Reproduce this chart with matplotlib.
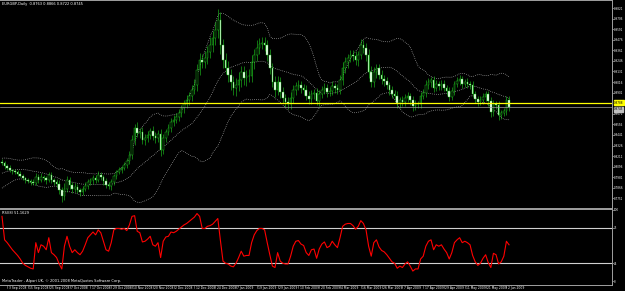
import numpy as np
import pandas as pd
import matplotlib
matplotlib.use('Agg')
import matplotlib.pyplot as plt
from matplotlib.transforms import blended_transform_factory

# EURGBP daily, 1 Sep 2008 - 3 Jun 2009 (closes in pips, 1e-4)
close_pips = [
    8136, 8104, 8082, 8060, 8049, 8038, 8017, 7995, 7973, 7951,
    7941, 7930, 7919, 7984, 7951, 7984, 7973, 7951, 8006, 7951,
    7930, 7908, 7843, 7777, 7854, 7951, 7897, 7854, 7875, 7843,
    7821, 7854, 7886, 7930, 7951, 7973, 7951, 8006, 7984, 7941,
    7897, 7886, 7930, 7995, 8038, 8060, 8082, 8114, 8158, 8223,
    8386, 8517, 8462, 8473, 8386, 8408, 8441, 8484, 8430, 8408,
    8451, 8278, 8408, 8473, 8517, 8582, 8604, 8636, 8680, 8734,
    8778, 8821, 8865, 8930, 8984, 9147, 9256, 9234, 9278, 9343,
    9419, 9495, 9582, 9691, 9419, 9256, 9169, 9093, 9017, 8952,
    8984, 9038, 9125, 9060, 9082, 9082, 9234, 9310, 9386, 9430,
    9441, 9419, 9310, 9169, 9017, 8930, 9017, 8908, 8843, 8799,
    8778, 8843, 8930, 8973, 8984, 8952, 8930, 8865, 8832, 8886,
    8897, 8810, 8886, 8930, 8952, 8908, 8919, 8973, 8952, 8930,
    9038, 9169, 9234, 9278, 9310, 9299, 9256, 9310, 9419, 9386,
    9310, 9125, 9017, 9125, 9169, 9093, 9049, 9028, 8984, 8930,
    8886, 8865, 8788, 8821, 8799, 8843, 8865, 8821, 8756, 8778,
    8778, 8865, 8897, 8984, 9017, 9038, 8952, 8995, 8973, 8995,
    8952, 8919, 8854, 8919, 8995, 9028, 9049, 8995, 9017, 8995,
    8984, 8886, 8832, 8799, 8821, 8854, 8886, 8810, 8691, 8778,
    8767, 8658, 8680, 8701, 8821, 8745,
]
first_open = 8150

wick_up = [
    30, 25, 20, 35, 15, 20, 25, 30, 20, 15,
    25, 20, 30, 45, 30, 40, 25, 20, 35, 30,
    25, 30, 40, 35, 60, 45, 30, 35, 40, 30,
    25, 35, 40, 30, 25, 30, 35, 40, 30, 25,
    30, 35, 30, 25, 20, 30, 25, 35, 30, 40,
    50, 45, 60, 40, 50, 45, 40, 35, 50, 40,
    45, 60, 40, 35, 45, 40, 50, 45, 40, 35,
    45, 50, 40, 55, 60, 70, 80, 60, 75, 70,
    90, 80, 85, 120, 90, 70, 80, 75, 60, 70,
    80, 90, 70, 65, 60, 75, 80, 70, 90, 65,
    70, 60, 55, 65, 50, 60, 70, 55, 50, 45,
    50, 60, 55, 45, 50, 40, 45, 55, 50, 45,
    40, 50, 45, 40, 50, 45, 40, 50, 35, 40,
    55, 60, 50, 45, 50, 55, 60, 45, 70, 50,
    55, 60, 65, 50, 45, 40, 50, 45, 40, 35,
    45, 40, 50, 35, 40, 45, 40, 35, 40, 45,
    35, 40, 45, 50, 40, 35, 45, 40, 35, 40,
    40, 35, 45, 40, 35, 40, 45, 30, 35, 40,
    35, 40, 30, 35, 40, 45, 30, 35, 40, 45,
    35, 40, 30, 35, 45, 40,
]
wick_dn = [
    20, 30, 25, 20, 30, 25, 20, 15, 25, 30,
    20, 30, 25, 20, 35, 25, 30, 40, 25, 35,
    30, 35, 45, 60, 40, 35, 45, 40, 30, 35,
    40, 30, 25, 35, 30, 40, 30, 25, 35, 40,
    35, 30, 40, 30, 35, 25, 30, 25, 35, 30,
    40, 50, 45, 55, 40, 50, 45, 40, 45, 50,
    40, 70, 45, 40, 35, 45, 40, 35, 45, 40,
    50, 45, 55, 50, 45, 60, 55, 70, 60, 65,
    70, 75, 80, 90, 100, 85, 70, 80, 90, 75,
    85, 70, 80, 75, 90, 70, 60, 75, 65, 70,
    60, 65, 70, 60, 55, 75, 60, 65, 55, 50,
    60, 50, 55, 60, 45, 50, 55, 45, 50, 55,
    50, 45, 55, 40, 45, 50, 40, 45, 50, 40,
    45, 50, 55, 60, 45, 50, 55, 60, 45, 50,
    60, 70, 55, 50, 60, 45, 50, 55, 45, 50,
    40, 45, 55, 50, 45, 40, 45, 55, 50, 40,
    45, 40, 35, 40, 45, 50, 40, 35, 45, 40,
    35, 45, 40, 35, 40, 35, 45, 40, 35, 40,
    40, 35, 45, 40, 35, 40, 45, 50, 60, 40,
    45, 50, 40, 35, 40, 45,
]

# closes before the visible window (needed by the 20-bar bands)
hist_pips = [7895, 7910, 7930, 7925, 7950, 7965, 7980, 7975, 8000, 8020,
             8035, 8050, 8045, 8070, 8090, 8110, 8125, 8140, 8160]

rsi = [
    91, 58, 54, 49, 44, 40, 36, 31, 25, 22,
    20, 18, 17, 54, 40, 51, 49, 44, 61, 40,
    37, 33, 24, 17, 49, 63, 49, 40, 44, 40,
    37, 42, 51, 61, 65, 69, 65, 72, 68, 56,
    44, 42, 54, 72, 74, 74, 73, 74, 71, 79,
    91, 92, 70, 68, 55, 56, 59, 63, 51, 49,
    54, 33, 56, 62, 63, 69, 68, 70, 73, 76,
    79, 81, 84, 87, 90, 95, 91, 74, 74, 77,
    78, 80, 84, 88, 57, 28, 25, 24, 21, 20,
    25, 33, 42, 35, 36, 36, 54, 65, 71, 74,
    74, 72, 54, 37, 21, 19, 40, 28, 25, 24,
    24, 35, 49, 56, 57, 52, 50, 40, 36, 44,
    45, 32, 45, 52, 55, 47, 49, 56, 51, 47,
    61, 77, 80, 81, 81, 78, 73, 77, 85, 81,
    72, 49, 35, 54, 58, 48, 43, 41, 37, 32,
    27, 25, 18, 21, 19, 24, 27, 21, 14, 17,
    17, 31, 35, 49, 56, 58, 44, 51, 49, 51,
    45, 40, 31, 40, 54, 58, 61, 54, 56, 54,
    51, 36, 27, 22, 25, 32, 37, 26, 19, 39,
    37, 24, 27, 35, 56, 51,
]
rsi_levels = [75, 25]

holidays = ['2008-12-25', '2009-01-01']
date_labels = ['3 Sep 2008', '15 Sep 2008', '25 Sep 2008', '7 Oct 2008', '17 Oct 2008',
               '29 Oct 2008', '10 Nov 2008', '20 Nov 2008', '2 Dec 2008', '12 Dec 2008',
               '24 Dec 2008', '7 Jan 2009', '19 Jan 2009', '29 Jan 2009', '10 Feb 2009',
               '20 Feb 2009', '4 Mar 2009', '16 Mar 2009', '26 Mar 2009', '7 Apr 2009',
               '17 Apr 2009', '29 Apr 2009', '11 May 2009', '21 May 2009', '2 Jun 2009']
price_ticks = [0.9821, 0.9706, 0.9591, 0.9476, 0.9361, 0.9246, 0.9131, 0.9016, 0.8901,
               0.8671, 0.8556, 0.8441, 0.8326, 0.8211, 0.8096, 0.7981, 0.7866, 0.7751]
hline_price = 0.8788
bid_price = 0.8745

# ---- derived series ----
dates = pd.bdate_range('2008-09-01', '2009-06-03').drop(pd.to_datetime(holidays))
x = np.arange(len(dates))
close = np.array(close_pips) / 10000.0
opens = np.r_[first_open, close_pips[:-1]] / 10000.0
high = np.maximum(opens, close) + np.array(wick_up) / 10000.0
low = np.minimum(opens, close) - np.array(wick_dn) / 10000.0

full = pd.Series(np.r_[hist_pips, close_pips] / 10000.0)
mid = full.rolling(20).mean().to_numpy()[-len(x):]
sd = full.rolling(20).std(ddof=0).to_numpy()[-len(x):]
upper, lower = mid + 2 * sd, mid - 2 * sd

# ---- figure ----
W, H = 625, 291
fig = plt.figure(figsize=(W / 100, H / 100), dpi=100, facecolor='black')
ax = fig.add_axes([0, 83 / H, 612 / W, 208 / H], facecolor='black')
ax_rsi = fig.add_axes([0, 6 / H, 612 / W, 76 / H], facecolor='black')

edge = '#a0a0a0'
fs = 2.6
fs_axis = 2.0
green = '#1fcc1f'
for a in (ax, ax_rsi):
    a.set_xlim(-0.77, 234.6)
    for s in a.spines.values():
        s.set_color(edge)
        s.set_linewidth(0.7)
    a.spines['left'].set_visible(False)
    a.yaxis.tick_right()
    a.tick_params(axis='y', colors=edge, labelcolor='white', labelsize=fs_axis,
                  length=1.2, width=0.5, pad=0.4)
    a.set_xticks([])

# main price panel
ax.set_ylim(0.7647, 0.9908)
ax.set_yticks(price_ticks)
ax.set_yticklabels([f'{v:.4f}' for v in price_ticks])

bull = close >= opens
ax.vlines(x, low, high, color=green, lw=0.4, zorder=2)
body_h = np.maximum(np.abs(close - opens), 0.0003)
ax.bar(x, body_h, bottom=np.minimum(opens, close), width=0.6,
       color=np.where(bull, 'black', 'white'), edgecolor=green,
       linewidth=0.3, zorder=3)

for band in (upper, mid, lower):
    ax.plot(x, band, color='#c8c8c8', lw=0.5, ls=(0, (1, 1.8)), zorder=1)

ax.axhline(hline_price, color='#ffff00', lw=0.9, zorder=4)
ax.axhline(bid_price, color='#a0a0a0', lw=0.5, zorder=4)
tr = blended_transform_factory(ax.transAxes, ax.transData)
ax.text(1.003, hline_price + 0.0004, f'{hline_price:.4f}', transform=tr, fontsize=fs_axis,
        color='black', va='center', ha='left', clip_on=False,
        bbox=dict(boxstyle='square,pad=0.1', fc='#ffff00', ec='#ffff00'))
ax.text(1.003, bid_price - 0.0026, f'{bid_price:.4f}', transform=tr, fontsize=fs_axis,
        color='black', va='center', ha='left', clip_on=False,
        bbox=dict(boxstyle='square,pad=0.1', fc='#c0c0c0', ec='#c0c0c0'))

ax.text(0.004, 0.988, 'EURGBP,Daily  0.8763 0.8866 0.8722 0.8745',
        transform=ax.transAxes, fontsize=fs, color='white', va='top', ha='left')

# RSI panel
ax_rsi.set_ylim(-5.6, 101.4)
ax_rsi.set_yticks([0] + rsi_levels[::-1] + [100])
ax_rsi.set_yticklabels(['0'] + [str(v) for v in rsi_levels[::-1]] + ['100'])
for lv in rsi_levels:
    ax_rsi.axhline(lv, color='#d0d0d0', lw=0.8)
ax_rsi.plot(x, rsi, color='#ff0000', lw=0.8)
ax_rsi.text(0.004, 0.97, f'RSI(8) {51.1629:.4f}', transform=ax_rsi.transAxes,
            fontsize=fs, color='white', va='top', ha='left')
ax_rsi.text(0.004, 0.025, 'MetaTrader - Alpari UK, \u00a9 2001-2008 MetaQuotes Software Corp.',
            transform=ax_rsi.transAxes, fontsize=fs, color='white', va='bottom', ha='left')

# date axis under the RSI panel
trx = blended_transform_factory(ax_rsi.transData, ax_rsi.transAxes)
for lab in date_labels:
    pos = dates.get_loc(pd.to_datetime(lab, format='%d %b %Y'))
    ax_rsi.plot([pos, pos], [0, -0.035], color=edge, lw=0.4, transform=trx, clip_on=False)
    ax_rsi.text(pos + 0.5, -0.012, lab, transform=trx, fontsize=2.2, color='white',
                va='top', ha='left', clip_on=False)

fig.savefig('out.png', dpi=100, facecolor='black')
